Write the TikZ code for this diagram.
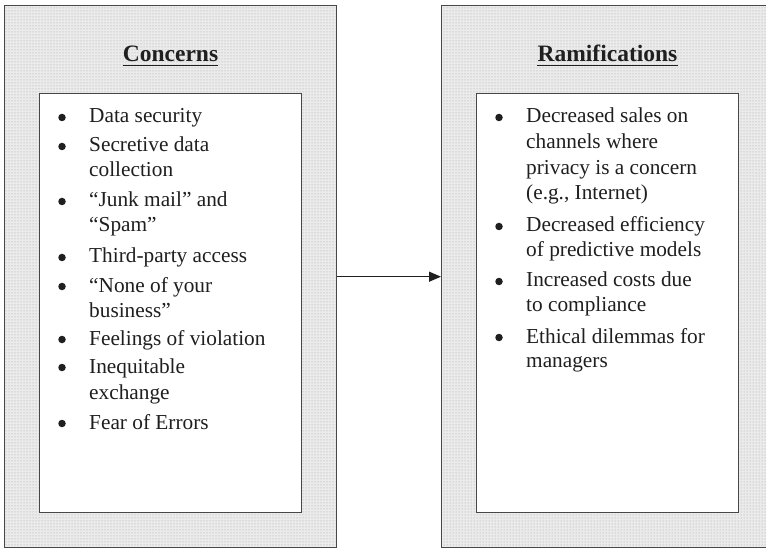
\documentclass[tikz,border=0pt]{standalone}
\usepackage{fontspec}
\setmainfont{Liberation Serif}
\usetikzlibrary{patterns,arrows.meta,calc}
\begin{document}
\begin{tikzpicture}[x=1pt,y=-1pt,
 panel/.style={draw=black!72, line width=1.4pt, preaction={fill=black!8}, pattern=dots, pattern color=black!38, inner sep=0pt, anchor=north west},
 listbox/.style={draw=black!72, line width=1.4pt, fill=white, inner sep=0pt, anchor=north west, minimum width=262pt, minimum height=419pt},
 ttl/.style={font=\fontsize{23.5}{28}\selectfont\bfseries, text=black!88, inner sep=0pt, anchor=base},
 itm/.style={font=\fontsize{21.3}{25}\selectfont, text=black!88, inner sep=0pt, anchor=base west},
 bul/.style={circle, fill=black!88, inner sep=0pt, minimum size=7.5pt},
 conn/.style={draw=black!88, line width=1.2pt, -{Triangle[length=12pt,width=10pt]}},
 uline/.style={draw=black!88, line width=1.3pt}]
\useasboundingbox (0,0) rectangle (766,548);
\clip (0,0) rectangle (766,548);
% panels
\node[panel, minimum width=332pt, minimum height=542pt] (L) at (4,5) {};
\node[panel, minimum width=332pt, minimum height=542pt] (R) at (441,5) {};
\node[listbox] (LI) at (39,93) {};
\node[listbox] (RI) at (476,93) {};
% titles
\node[ttl] (T1) at (170.5,62) {Concerns};
\draw[uline] ($(T1.base west)+(0,3.5)$) -- ($(T1.base east)+(0,3.5)$);
\node[ttl] (T2) at (607.5,62) {Ramifications};
\draw[uline] ($(T2.base west)+(0,3.5)$) -- ($(T2.base east)+(0,3.5)$);
% left list
\node[bul] (lb1) at (62,117.5) {};
\node[itm] (l1) at (89,123) {Data security};
\node[bul] (lb2) at (62,146.5) {};
\node[itm] (l2) at (89,152) {Secretive data};
\node[itm] (l3) at (89,177) {collection};
\node[bul] (lb3) at (62,201.5) {};
\node[itm] (l4) at (89,207) {“Junk mail” and};
\node[itm] (l5) at (89,232) {“Spam”};
\node[bul] (lb4) at (62,257.5) {};
\node[itm] (l6) at (89,263) {Third-party access};
\node[bul] (lb5) at (62,286.5) {};
\node[itm] (l7) at (89,292) {“None of your};
\node[itm] (l8) at (89,317) {business”};
\node[bul] (lb6) at (62,339.5) {};
\node[itm] (l9) at (89,345) {Feelings of violation};
\node[bul] (lb7) at (62,367.5) {};
\node[itm] (l10) at (89,373) {Inequitable};
\node[itm] (l11) at (89,399) {exchange};
\node[bul] (lb8) at (62,423.5) {};
\node[itm] (l12) at (89,429) {Fear of Errors};
% right list
\node[bul] (rb1) at (499,117.5) {};
\node[itm] (r1) at (526,123) {Decreased sales on};
\node[itm] (r2) at (526,148.5) {channels where};
\node[itm] (r3) at (526,175) {privacy is a concern};
\node[itm] (r4) at (526,199.5) {(e.g., Internet)};
\node[bul] (rb2) at (499,226.5) {};
\node[itm] (r5) at (526,232) {Decreased efficiency};
\node[itm] (r6) at (526,257) {of predictive models};
\node[bul] (rb3) at (499,281.5) {};
\node[itm] (r7) at (526,287) {Increased costs due};
\node[itm] (r8) at (526,312) {to compliance};
\node[bul] (rb4) at (499,337.5) {};
\node[itm] (r9) at (526,343) {Ethical dilemmas for};
\node[itm] (r10) at (526,367) {managers};
% connector
\draw[conn] (L.east) -- (R.west);
\end{tikzpicture}
\end{document}
